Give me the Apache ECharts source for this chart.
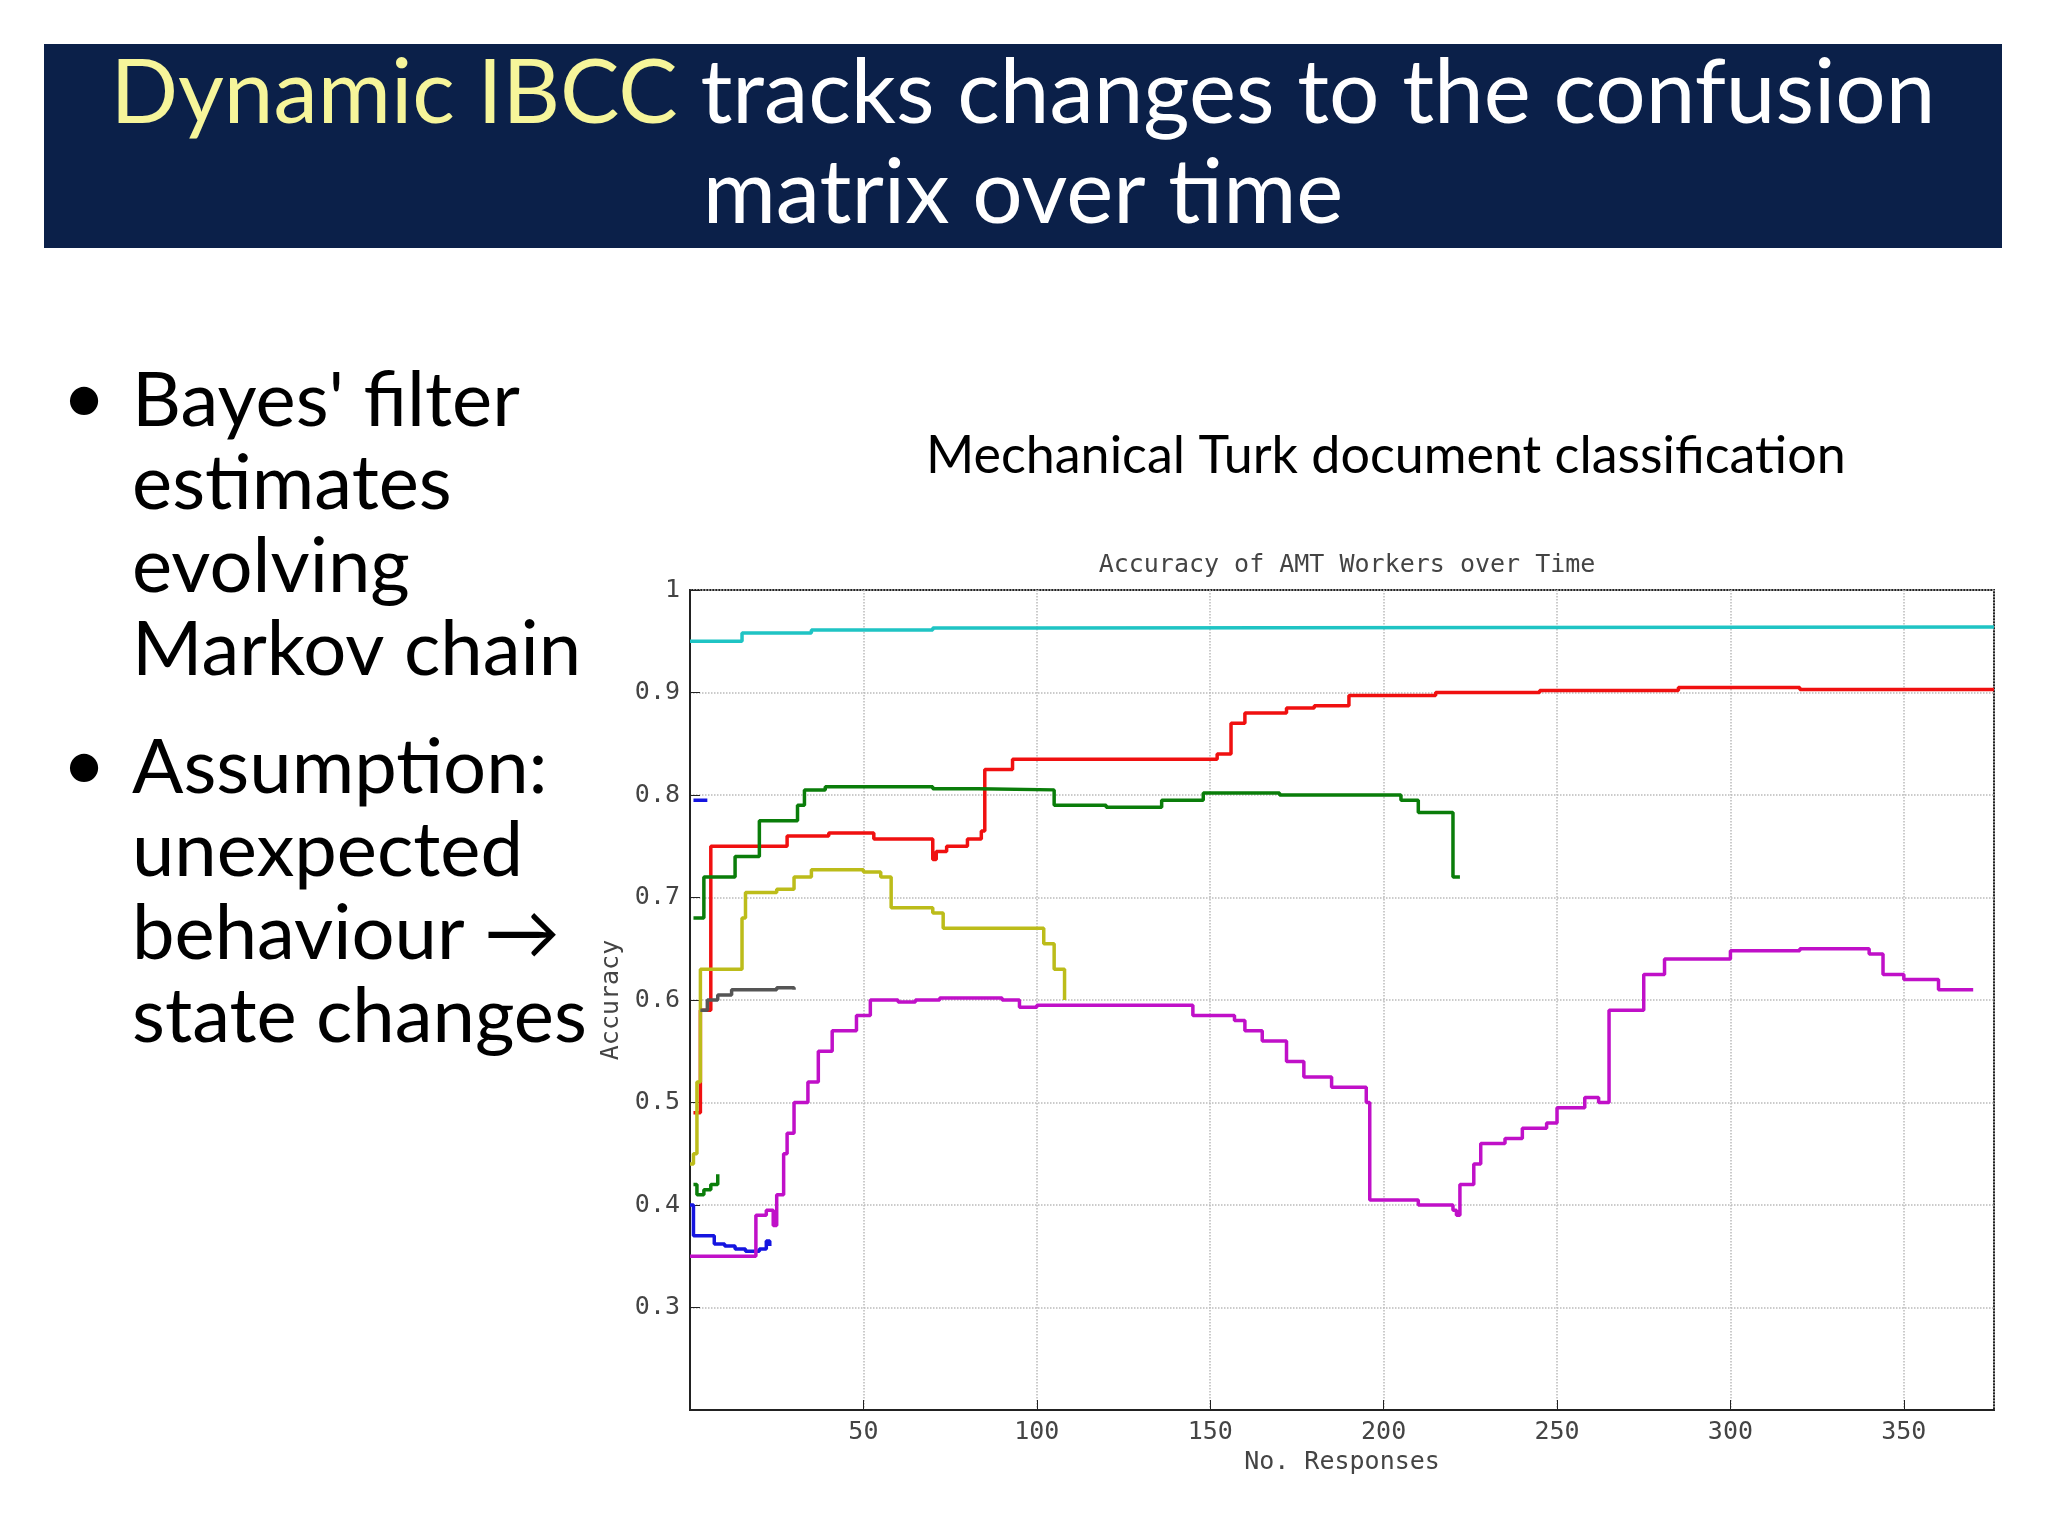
<!DOCTYPE html>
<html><head><meta charset="utf-8">
<script src="https://cdn.jsdelivr.net/npm/echarts@6/dist/echarts.min.js"></script>
<style>html,body{margin:0;background:#fff}#c{width:2048px;height:1535px}</style>
</head><body><div id="c"></div>
<script>
// worker accuracy traces, [responses, accuracy]
var cyan = [[0,0.95],[13,0.95],[15,0.958],[35,0.961],[70,0.963],[100,0.964],[376,0.964]];
var red = [[1,0.49],[3,0.59],[6,0.75],[27,0.75],[28,0.76],[40,0.763],[50,0.763],[53,0.757],[70,0.737],[71,0.745],[74,0.75],[80,0.757],[84,0.765],[85,0.825],[93,0.835],[152,0.84],[156,0.87],[160,0.88],[172,0.885],[180,0.887],[190,0.897],[215,0.9],[245,0.902],[285,0.905],[320,0.903],[376,0.903]];
var green = [[1,0.68],[4,0.72],[13,0.74],[20,0.775],[31,0.79],[33,0.805],[39,0.808],[70,0.806],[83,0.805],[105,0.79],[120,0.788],[136,0.795],[148,0.802],[170,0.8],[205,0.795],[210,0.783],[219,0.783],[220,0.72],[222,0.72]];
var green2 = [[1,0.42],[2,0.41],[4,0.415],[6,0.42],[8,0.43]];
var blue = [[1,0.795],[5,0.795]];
var blue2 = [[0,0.4],[1,0.37],[6,0.37],[7,0.362],[10,0.36],[13,0.357],[16,0.355],[20,0.357],[22,0.365],[23,0.36]];
var yellow = [[0,0.44],[1,0.45],[2,0.52],[3,0.63],[10,0.63],[15,0.68],[16,0.705],[25,0.708],[30,0.72],[35,0.727],[50,0.725],[55,0.72],[58,0.69],[70,0.685],[73,0.67],[100,0.67],[102,0.655],[105,0.63],[108,0.6]];
var gray = [[3,0.59],[5,0.6],[8,0.605],[12,0.61],[18,0.61],[25,0.612],[30,0.61]];
var magenta = [[0,0.35],[18,0.35],[19,0.39],[22,0.395],[24,0.38],[25,0.41],[27,0.45],[28,0.47],[30,0.5],[34,0.52],[37,0.55],[41,0.57],[48,0.585],[52,0.6],[60,0.598],[65,0.6],[72,0.602],[90,0.6],[95,0.593],[100,0.595],[140,0.595],[145,0.585],[157,0.58],[160,0.57],[165,0.56],[172,0.54],[177,0.525],[185,0.515],[195,0.5],[196,0.405],[210,0.4],[220,0.395],[221,0.39],[222,0.42],[226,0.44],[228,0.46],[235,0.465],[240,0.475],[247,0.48],[250,0.495],[258,0.505],[262,0.5],[265,0.59],[275,0.625],[281,0.64],[300,0.648],[320,0.65],[340,0.645],[344,0.625],[350,0.62],[360,0.61],[370,0.61]];

var chart = echarts.init(document.getElementById('c'));
var mono = 'DejaVu Sans Mono';
function line(d, c) {
  return {type: 'line', data: d, step: 'end', symbol: 'none', lineStyle: {color: c, width: 3.5}};
}
var option = {
  animation: false,
  title: {
    text: 'Accuracy of AMT Workers over Time', left: 1342, top: 548, textAlign: 'center',
    textStyle: {fontFamily: mono, fontWeight: 'normal', fontSize: 25, color: '#444'}
  },
  graphic: [
    {type: 'rect', shape: {x: 44, y: 44, width: 1958, height: 204}, style: {fill: '#0b2049'}},
    {type: 'text', x: 1023, y: 44, style: {
      text: '{y|Dynamic IBCC} tracks changes to the confusion\nmatrix over time',
      rich: {y: {fill: '#f6f59a', fontSize: 89, fontFamily: 'Lato'}},
      fill: '#fff', fontSize: 89, fontFamily: 'Lato', align: 'center', lineHeight: 100
    }},
    {type: 'text', left: 62, top: 360, style: {text: '•', fill: '#000', fontSize: 76, fontFamily: 'Lato'}},
    {type: 'text', left: 62, top: 727, style: {text: '•', fill: '#000', fontSize: 76, fontFamily: 'Lato'}},
    {type: 'text', left: 132, top: 360, style: {
      text: "Bayes' filter\nestimates\nevolving\nMarkov chain", fill: '#000', fontSize: 76, fontFamily: 'Lato', lineHeight: 83}},
    {type: 'text', left: 132, top: 727, style: {
      text: 'Assumption:\nunexpected\nbehaviour →\nstate changes', fill: '#000', fontSize: 76, fontFamily: 'Lato', lineHeight: 83}},
    {type: 'text', left: 926, top: 430, style: {
      text: 'Mechanical Turk document classification', fill: '#000', fontSize: 52, fontFamily: 'Lato'}}
  ],
  grid: {left: 690, top: 590, width: 1304, height: 820, show: true, borderColor: '#222', borderWidth: 2},
  xAxis: {
    type: 'value', min: 0, max: 376, interval: 50,
    name: 'No. Responses', nameLocation: 'middle', nameGap: 30,
    nameTextStyle: {fontFamily: mono, fontSize: 25, color: '#444'},
    axisLine: {lineStyle: {color: '#222', width: 2}},
    axisTick: {inside: true, length: 10, lineStyle: {color: '#222'}},
    axisLabel: {fontFamily: mono, fontSize: 25, color: '#444', margin: 10, showMaxLabel: false,
      formatter: function (v) { return v === 0 ? '' : v; }},
    splitLine: {lineStyle: {type: 'dotted', color: '#bbb', width: 1.5}}
  },
  yAxis: {
    type: 'value', min: 0.2, max: 1, interval: 0.1,
    name: 'Accuracy', nameLocation: 'middle', nameGap: 64,
    nameTextStyle: {fontFamily: mono, fontSize: 25, color: '#444'},
    axisLine: {lineStyle: {color: '#222', width: 2}},
    axisTick: {inside: true, length: 10, lineStyle: {color: '#222'}},
    axisLabel: {fontFamily: mono, fontSize: 25, color: '#444', margin: 10,
      formatter: function (v) { v = Math.round(v * 10) / 10; return v === 0.2 ? '' : String(v); }},
    splitLine: {lineStyle: {type: 'dotted', color: '#bbb', width: 1.5}}
  },
  series: [
    line(cyan, '#1fc4c4'), line(red, '#f01010'), line(green, '#0a7d0a'), line(green2, '#0a7d0a'),
    line(blue, '#1515e0'), line(blue2, '#1515e0'), line(yellow, '#bcbc1a'), line(gray, '#555'),
    line(magenta, '#c010c8')
  ]
};
chart.setOption(option);
</script></body></html>
